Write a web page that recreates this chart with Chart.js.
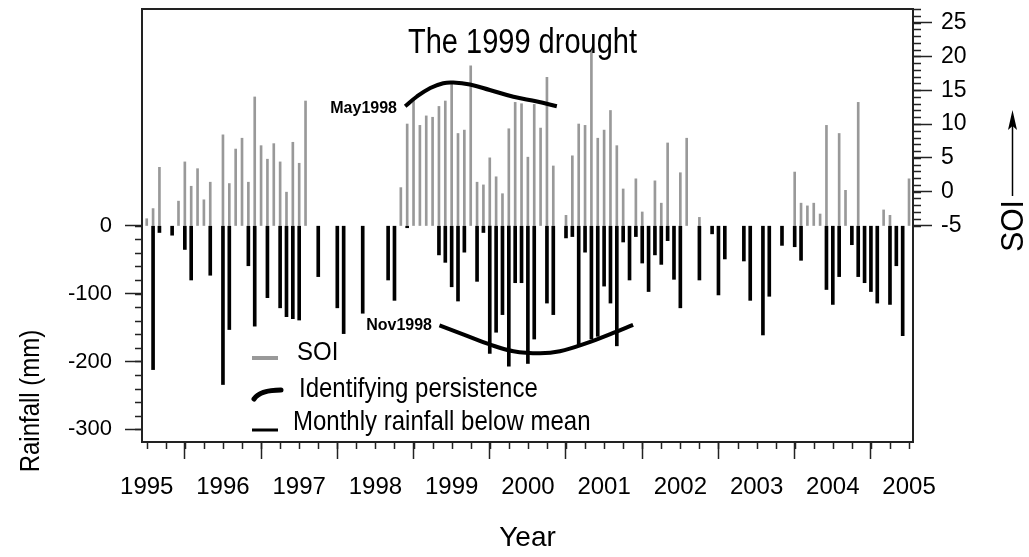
<!DOCTYPE html>
<html>
<head>
<meta charset="utf-8">
<title>The 1999 drought</title>
<script src="https://cdn.jsdelivr.net/npm/chart.js@4"></script>
<style>
  html, body { margin: 0; padding: 0; background: #fff; }
</style>
</head>
<body>
<canvas id="droughtChart" width="1029" height="557"></canvas>
<script>
// monthly values, Jan 1995 .. Jan 2005 (null = no bar in that month)
const startYear = 1995;

// SOI, gray bars drawn up from -5
const soi = [
    -4.0, -2.5, 3.6, null, null, -1.4, 4.4, 0.8, 3.4, -1.2, 1.4, null,      // 1995
    8.4, 1.2, 6.3, 7.9, 1.4, 14.0, 6.8, 4.8, 7.1, 4.4, 0.0, 7.3,           // 1996
    4.2, 13.4, null, null, null, null, null, null, null, null, null, null, // 1997
    null, null, null, null, 0.6, 10.0, 13.8, 9.8, 11.2, 11.0, 12.6, 13.4,  // 1998
    16.0, 8.6, 9.1, 18.6, 1.4, 1.0, 5.0, 2.2, -0.3, 9.3, 13.2, 13.0,       // 1999
    5.1, 12.9, 9.4, 16.9, 3.8, null, -3.5, 5.3, 10.0, 9.8, 20.8, 7.9,      // 2000
    9.1, 12.0, 6.8, 0.4, null, 1.9, -3.0, null, 1.6, -1.7, 7.2, null,      // 2001
    2.8, 7.9, null, -3.8, null, null, null, null, null, null, null, null,  // 2002
    null, null, null, null, null, null, 2.9, -1.7, -2.1, -1.7, -3.3, 9.8,  // 2003
    null, 8.6, 0.2, null, 13.2, null, null, null, -2.7, -3.5, null, null,  // 2004
    1.9                                                                    // 2005
];

// monthly rainfall below mean (mm), black bars
const rainfall = [
    null, -212, -10, null, -14, null, -35, -80, null, null, -73, null,     // 1995
    -234, -153, null, null, -59, -148, null, -106, null, -121, -134, -137, // 1996
    -139, null, null, -75, null, null, -121, -159, null, null, -129, null, // 1997
    null, null, -80, -110, null, -3, null, null, null, null, -43, -54,     // 1998
    -90, -111, -39, null, -82, -10, -188, -157, -131, -207, -84, -84,      // 1999
    -203, -167, null, -114, -131, null, -18, -16, -177, -39, -167, -163,   // 2000
    -89, -114, -177, -24, -80, -16, -55, -97, -43, -57, -22, -79,          // 2001
    -121, null, null, -80, null, -12, -102, -49, null, null, -52, -110,    // 2002
    null, -161, -104, null, -29, null, -31, -51, null, null, null, -94,    // 2003
    -116, -75, null, -28, -75, -84, -97, -114, null, -116, -59, -162,     // 2004
    null                                                                   // 2005
];

// "identifying persistence" curves, [year, mm]
const curveMay1998 = [[1998.39, 176], [1998.54, 190], [1998.72, 203], [1998.89, 210], [1999.02, 211],
    [1999.24, 208], [1999.50, 200], [1999.81, 190], [2000.12, 183], [2000.38, 176]];
const curveNov1998 = [[1998.84, -147], [1999.15, -160], [1999.50, -175], [1999.81, -185], [2000.16, -188],
    [2000.42, -185], [2000.77, -173], [2001.12, -158], [2001.38, -146]];

const yearTicks = [1995, 1996, 1997, 1998, 1999, 2000, 2001, 2002, 2003, 2004, 2005];
const rainTicks = [-300, -200, -100, 0];
const soiTicks = [-5, 0, 5, 10, 15, 20, 25];

const FONT = '"Liberation Sans", Arial, sans-serif';
Chart.defaults.font.family = FONT;
Chart.defaults.color = '#000';

function monthPoints(values, base) {
    const pts = [];
    values.forEach((v, i) => {
        if (v === null) return;
        pts.push({x: startYear + i / 12, y: base === undefined ? v : [base, v]});
    });
    return pts;
}

function drawText(ctx, text, x, y, o) {
    ctx.save();
    ctx.translate(x, y);
    if (o.rotate) ctx.rotate(o.rotate);
    ctx.scale(1, o.stretch || 1);
    ctx.font = (o.bold ? 'bold ' : '') + o.size + 'px ' + FONT;
    ctx.textAlign = o.align || 'left';
    ctx.textBaseline = o.baseline || 'alphabetic';
    ctx.fillStyle = '#000';
    ctx.fillText(text, 0, 0);
    ctx.restore();
}

// fixed axis sizes, no extra padding for the tick labels
function fixSize(w, h) {
    return s => {
        if (w) s.width = w;
        if (h) s.height = h;
        s.paddingTop = 0;
        s.paddingBottom = 0;
        s.paddingLeft = 0;
        s.paddingRight = 0;
    };
}

// box, minor ticks and the free-standing texts
const decorations = {
    id: 'decorations',
    afterDraw(chart) {
        const ctx = chart.ctx;
        const a = chart.chartArea;
        const {x, y, y2} = chart.scales;

        ctx.save();
        ctx.strokeStyle = '#222';
        ctx.lineWidth = 1.5;
        ctx.beginPath();
        for (let v = 1995; v <= 2005; v += 0.25) {
            const px = Math.round(x.getPixelForValue(v)) + 0.5;
            ctx.moveTo(px, a.bottom);
            ctx.lineTo(px, a.bottom + 7);
        }
        for (let v = -300; v <= 0; v += 20) {
            const py = Math.round(y.getPixelForValue(v)) + 0.5;
            ctx.moveTo(a.left, py);
            ctx.lineTo(a.left - 7, py);
        }
        for (let v = -5; v <= 27; v += 1) {
            const py = Math.round(y2.getPixelForValue(v)) + 0.5;
            ctx.moveTo(a.right, py);
            ctx.lineTo(a.right + 8, py);
        }
        ctx.stroke();

        ctx.lineWidth = 2;
        ctx.strokeRect(a.left, a.top, a.right - a.left, a.bottom - a.top);

        // legend
        ctx.lineCap = 'butt';
        ctx.strokeStyle = '#999';
        ctx.lineWidth = 4;
        ctx.beginPath(); ctx.moveTo(252, 358); ctx.lineTo(278, 358); ctx.stroke();
        ctx.strokeStyle = '#000';
        ctx.lineWidth = 5;
        ctx.lineCap = 'round';
        ctx.beginPath(); ctx.moveTo(254, 399); ctx.quadraticCurveTo(260, 390, 281, 390); ctx.stroke();
        ctx.lineCap = 'butt';
        ctx.lineWidth = 3;
        ctx.beginPath(); ctx.moveTo(252, 430); ctx.lineTo(278, 430); ctx.stroke();

        // SOI arrow
        ctx.lineWidth = 1.5;
        ctx.beginPath(); ctx.moveTo(1012.5, 196); ctx.lineTo(1012.5, 124); ctx.stroke();
        ctx.fillStyle = '#000';
        ctx.beginPath(); ctx.moveTo(1012.5, 110); ctx.lineTo(1008, 130); ctx.lineTo(1012.5, 126); ctx.lineTo(1017, 130); ctx.closePath(); ctx.fill();
        ctx.restore();

        drawText(ctx, 'The 1999 drought', 408, 53, {size: 29, stretch: 1.2});
        drawText(ctx, 'May1998', 397, 113, {size: 16, bold: true, align: 'right'});
        drawText(ctx, 'Nov1998', 432, 330, {size: 16, bold: true, align: 'right'});
        drawText(ctx, 'SOI', 297, 360, {size: 24, stretch: 1.08});
        drawText(ctx, 'Identifying persistence', 299, 397, {size: 24, stretch: 1.15});
        drawText(ctx, 'Monthly rainfall below mean', 293, 430, {size: 24, stretch: 1.18});
        drawText(ctx, 'Rainfall (mm)', 31, 401, {size: 24, stretch: 1.15, rotate: -Math.PI / 2, align: 'center', baseline: 'middle'});
        drawText(ctx, 'SOI', 1014, 226, {size: 30, stretch: 1.05, rotate: -Math.PI / 2, align: 'center', baseline: 'middle'});
    }
};

new Chart(document.getElementById('droughtChart'), {
    type: 'bar',
    data: {
        datasets: [
            {
                label: 'SOI',
                data: monthPoints(soi, -5),
                yAxisID: 'y2',
                backgroundColor: '#999999',
                barThickness: 2,
                grouped: false,
                order: 2
            },
            {
                label: 'Monthly rainfall below mean',
                data: monthPoints(rainfall),
                yAxisID: 'y',
                backgroundColor: '#000000',
                barThickness: 3,
                grouped: false,
                order: 1
            },
            {
                type: 'line',
                label: 'Identifying persistence',
                data: curveMay1998.map(p => ({x: p[0], y: p[1]})),
                yAxisID: 'y',
                borderColor: '#000',
                borderWidth: 4,
                pointRadius: 0,
                tension: 0.4,
                fill: false,
                order: 0
            },
            {
                type: 'line',
                label: 'Identifying persistence (Nov1998)',
                data: curveNov1998.map(p => ({x: p[0], y: p[1]})),
                yAxisID: 'y',
                borderColor: '#000',
                borderWidth: 4,
                pointRadius: 0,
                tension: 0.4,
                fill: false,
                order: 0
            }
        ]
    },
    options: {
        responsive: false,
        animation: false,
        layout: {padding: {top: 9, left: 0, right: 0, bottom: 0}},
        plugins: {legend: {display: false}, tooltip: {enabled: false}},
        scales: {
            x: {
                type: 'linear',
                min: 1994.938,
                max: 2005.052,
                offset: false,
                afterBuildTicks: s => { s.ticks = yearTicks.map(v => ({value: v})); },
                afterFit: fixSize(0, 115),
                grid: {drawOnChartArea: false, tickLength: 17, tickColor: '#222', tickWidth: 1.5},
                border: {display: false},
                ticks: {font: {size: 24}, padding: 14, maxRotation: 0, autoSkip: false, callback: v => String(v)},
                title: {display: true, text: 'Year', font: {size: 28}, padding: {top: 0, bottom: 2}}
            },
            y: {
                position: 'left',
                min: -318.7,
                max: 319.3,
                afterBuildTicks: s => { s.ticks = rainTicks.map(v => ({value: v})); },
                afterFit: fixSize(142, 0),
                grid: {drawOnChartArea: false, tickLength: 17, tickColor: '#222', tickWidth: 1.5},
                border: {display: false},
                ticks: {font: {size: 22}, padding: 13, callback: v => String(v)}
            },
            y2: {
                position: 'right',
                min: -37,
                max: 27,
                afterBuildTicks: s => { s.ticks = soiTicks.map(v => ({value: v})); },
                afterFit: fixSize(116, 0),
                grid: {drawOnChartArea: false, tickLength: 19, tickColor: '#222', tickWidth: 1.5},
                border: {display: false},
                ticks: {font: {size: 23}, padding: 9, callback: v => String(v)}
            }
        }
    },
    plugins: [decorations]
});
</script>
</body>
</html>
